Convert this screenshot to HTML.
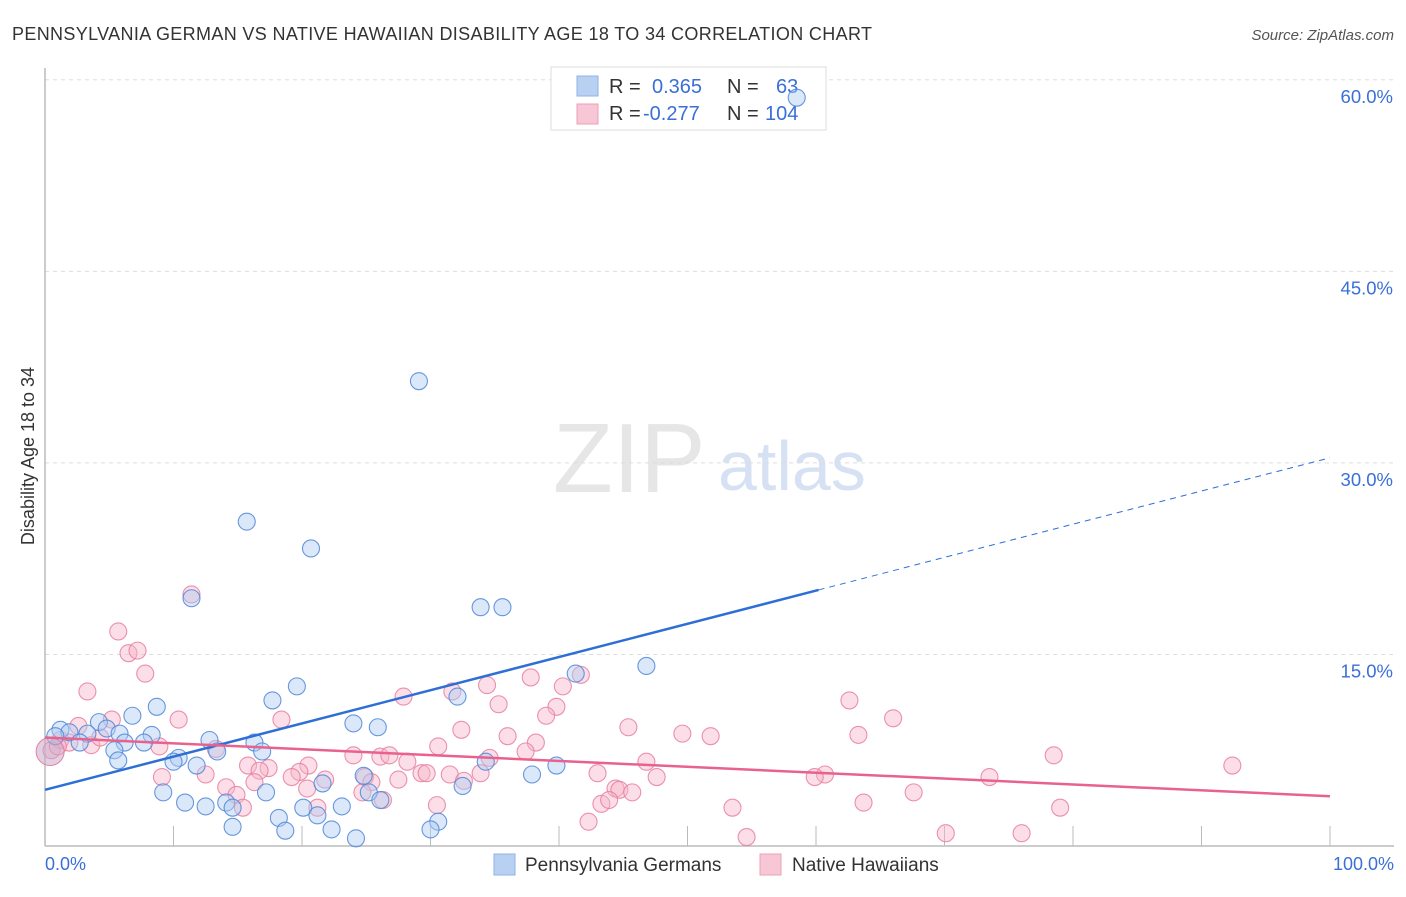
<!DOCTYPE html>
<html><head><meta charset="utf-8"><style>
body{margin:0;background:#fff;font-family:"Liberation Sans",sans-serif}
svg text{font-family:"Liberation Sans",sans-serif}
</style></head><body>
<svg id="c" width="1406" height="892" xmlns="http://www.w3.org/2000/svg">
<text x="12" y="40" font-size="18" fill="#333" textLength="860">PENNSYLVANIA GERMAN VS NATIVE HAWAIIAN DISABILITY AGE 18 TO 34 CORRELATION CHART</text>
<text x="1394" y="40" font-size="15" fill="#555" font-style="italic" text-anchor="end">Source: ZipAtlas.com</text>
<g><text x="553" y="492" font-size="98" fill="#e6e6e6" font-family="Liberation Serif,serif">ZIP</text><text x="718" y="490" font-size="70" fill="#d6e2f3">atlas</text></g>
<g id="grid"></g><g id="axes"></g>
<g>
<rect x="551" y="67" width="275" height="63" fill="#fff" stroke="#ddd"/>
<rect x="577" y="76" width="21" height="20" fill="#b8d1f3" stroke="#8fb2e6"/>
<rect x="577" y="104" width="21" height="20" fill="#f8c7d5" stroke="#ee9fb6"/>
<text y="93" font-size="20" fill="#333"><tspan x="609">R =</tspan><tspan x="652" fill="#3a6fd8">0.365</tspan><tspan x="727">N =</tspan><tspan x="776" fill="#3a6fd8">63</tspan></text>
<text y="120" font-size="20" fill="#333"><tspan x="609">R =</tspan><tspan x="643" fill="#3a6fd8">-0.277</tspan><tspan x="727">N =</tspan><tspan x="765" fill="#3a6fd8">104</tspan></text>
</g>
<g id="pts"></g><g id="lines"></g>
<text transform="translate(34,456) rotate(-90)" font-size="18" fill="#333" text-anchor="middle">Disability Age 18 to 34</text>
<text x="45" y="870" font-size="18" fill="#3a6fd8">0.0%</text>
<text x="1394" y="870" font-size="18" fill="#3a6fd8" text-anchor="end">100.0%</text>
<g>
<rect x="494" y="854" width="21" height="21" fill="#b8d1f3" stroke="#8fb2e6"/>
<text x="525" y="871" font-size="19" fill="#333">Pennsylvania Germans</text>
<rect x="760" y="854" width="21" height="21" fill="#f8c7d5" stroke="#ee9fb6"/>
<text x="792" y="871" font-size="19" fill="#333">Native Hawaiians</text>
</g>
</svg>
<script>
const yTicks=[15,30,45,60];
const xTicks=[10,20,30,40,50,60,70,80,90,100];
const blueX=[58.5,29.1,15.7,20.7,11.4,33.9,35.6,46.8,41.3,19.6,17.7,32.1,8.7,6.8,24.0,25.9,4.2,1.2,1.9,0.8,3.3,4.8,5.8,2.7,8.3,7.7,6.2,5.4,12.8,16.3,13.4,16.9,5.7,10.4,11.8,10.0,39.8,34.3,24.8,37.9,21.6,9.2,17.2,25.2,32.5,26.1,10.9,12.5,14.1,14.6,20.1,23.1,18.2,21.2,30.6,14.6,18.7,22.3,30.0,24.2];
const blueY=[58.6,36.4,25.4,23.3,19.4,18.7,18.7,14.1,13.5,12.5,11.4,11.7,10.9,10.2,9.6,9.3,9.7,9.1,8.9,8.6,8.8,9.2,8.8,8.1,8.7,8.1,8.1,7.5,8.3,8.1,7.4,7.4,6.7,6.9,6.3,6.6,6.3,6.6,5.5,5.6,4.9,4.2,4.2,4.2,4.7,3.6,3.4,3.1,3.4,3.0,3.0,3.1,2.2,2.4,1.9,1.5,1.2,1.3,1.3,0.6];
const pinkX=[11.4,5.7,6.5,7.2,7.8,3.3,41.7,40.3,37.8,34.4,31.7,27.9,35.3,39.8,39.0,62.6,66.0,10.4,18.4,5.2,2.6,45.4,32.4,49.6,51.8,63.3,36.0,38.2,30.6,8.9,1.2,1.9,3.6,4.3,0.5,1.0,78.5,92.4,13.3,24.0,26.1,26.8,28.2,34.6,37.4,46.8,15.8,17.4,16.7,20.5,19.8,12.5,19.2,21.8,24.9,25.4,29.3,29.7,27.5,31.5,33.9,43.0,47.6,60.7,59.9,73.5,9.1,16.3,32.6,14.1,14.9,20.4,24.7,26.3,44.4,44.7,45.7,67.6,15.4,21.2,30.5,43.3,43.9,53.5,63.7,79.0,42.3,54.6,70.1,76.0];
const pinkY=[19.7,16.8,15.1,15.3,13.5,12.1,13.4,12.5,13.2,12.6,12.1,11.7,11.1,10.9,10.2,11.4,10.0,9.9,9.9,9.9,9.4,9.3,9.1,8.8,8.6,8.7,8.6,8.1,7.8,7.8,8.3,8.1,7.9,8.5,7.5,7.8,7.1,6.3,7.6,7.1,7.0,7.1,6.6,6.9,7.4,6.6,6.3,6.1,5.9,6.3,5.8,5.6,5.4,5.2,5.4,5.0,5.7,5.7,5.2,5.6,5.7,5.7,5.4,5.6,5.4,5.4,5.4,5.0,5.1,4.6,4.0,4.5,4.2,3.6,4.5,4.4,4.2,4.2,3.0,3.0,3.2,3.3,3.6,3.0,3.4,3.0,1.9,0.7,1.0,1.0];
const blueTrend=[4.4,0.26]; // intercept, slope (% per %)
const pinkTrend=[8.5,-0.046];
const blueSolidEnd=[60.2];
const X=v=>45+v*12.85, Y=v=>846-v*12.77;
const NS='http://www.w3.org/2000/svg';
function mk(t,a,p){const e=document.createElementNS(NS,t);for(const k in a)e.setAttribute(k,a[k]);document.getElementById(p).appendChild(e);return e;}
yTicks.forEach(v=>{
 const l=mk('line',{x1:45,x2:1394,y1:Y(v),y2:Y(v),stroke:'#ddd','stroke-dasharray':'4,4'},'grid');
 
 
 const t=mk('text',{x:1393,y:Y(v)+23,'font-size':18.5,fill:'#3a6fd8','text-anchor':'end'},'grid');t.textContent=v.toFixed(1)+'%';
 
 
});
const ya=mk('line',{x1:45,x2:45,y1:68,y2:846,stroke:'#bbb','stroke-width':1.5},'axes');


const xa=mk('line',{x1:45,x2:1394,y1:846,y2:846,stroke:'#bbb','stroke-width':1.5},'axes');


xTicks.forEach(v=>{const t=mk('line',{x1:X(v),x2:X(v),y1:826,y2:846,stroke:'#bbb'},'axes');
 
 });
function pts(xs,ys,f,s,n){xs.forEach((x,i)=>{const c=mk('circle',{cx:X(x),cy:Y(ys[i]),r:8.5,fill:f,'fill-opacity':0.45,stroke:s,'stroke-width':1.1,'stroke-opacity':0.85},'pts');
 
 });}
pts(pinkX,pinkY,'#f6b6c9','#e87fa0','native-hawaiian-point');
pts(blueX,blueY,'#b0cdf2','#4f86d8','pennsylvania-german-point');
const big=mk('circle',{cx:X(0.4),cy:Y(7.4),r:14,fill:'#c9a9c8','fill-opacity':0.55,stroke:'#e87fa0'},'pts');


const bt=v=>blueTrend[0]+blueTrend[1]*v, pt=v=>pinkTrend[0]+pinkTrend[1]*v;
const b1=mk('line',{x1:X(0),y1:Y(bt(0)),x2:X(blueSolidEnd[0]),y2:Y(bt(blueSolidEnd[0])),stroke:'#2e6fd6','stroke-width':2.5},'lines');


const b2=mk('line',{x1:X(blueSolidEnd[0]),y1:Y(bt(blueSolidEnd[0])),x2:X(100),y2:Y(bt(100)),stroke:'#2e6fd6','stroke-width':1,'stroke-dasharray':'6,5'},'lines');


const p1=mk('line',{x1:X(0),y1:Y(pt(0)),x2:X(100),y2:Y(pt(100)),stroke:'#e9628e','stroke-width':2.5},'lines');


</script>
</body></html>
